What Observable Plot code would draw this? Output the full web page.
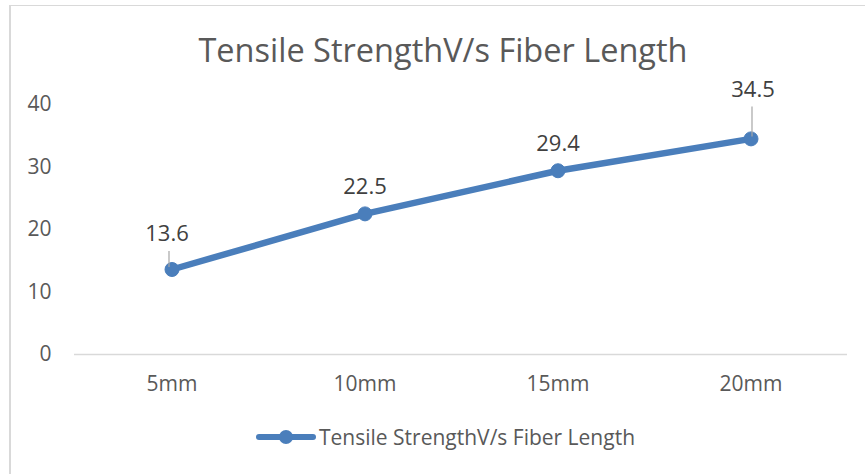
<!DOCTYPE html>
<html>
<head>
<meta charset="utf-8">
<script src="https://cdn.jsdelivr.net/npm/d3@7"></script>
<script src="https://cdn.jsdelivr.net/npm/@observablehq/plot@0.6"></script>
<style>
  html, body { margin: 0; padding: 0; background: #fff; }
  #wrap { position: relative; width: 865px; height: 474px; overflow: hidden; font-family: "Open Sans", sans-serif; }
  #frame { position: absolute; left: 9px; top: 5px; width: 870px; height: 480px; border-top: 1px solid #d9d9d9; border-left: 2px solid #d9d9d9; box-sizing: border-box; }
  #title { position: absolute; left: 0; width: 886px; top: 28px; text-align: center; font-size: 32.5px; color: #595959; line-height: 44px; }
  #chart { position: absolute; left: 0; top: 60px; }
  #chart svg { overflow: visible; }
  #legend { position: absolute; left: 256px; top: 423px; display: flex; align-items: center; font-size: 21px; color: #595959; }
</style>
</head>
<body>
<div id="wrap">
  <div id="frame"></div>
  <div id="title">Tensile StrengthV/s Fiber Length</div>
  <div id="chart"></div>
  <div id="legend"></div>
</div>
<script>
const categories = ["5mm", "10mm", "15mm", "20mm"];
const strength = [13.6, 22.5, 29.4, 34.5];
const yTicks = [0, 10, 20, 30, 40];
const seriesName = "Tensile StrengthV/s Fiber Length";

const data = categories.map((c, i) => ({ cat: c, value: strength[i], i }));
const blue = "#4a7ebb";

const plot = Plot.plot({
  width: 865,
  height: 340,
  marginLeft: 74,
  marginRight: 18,
  marginTop: 44,
  marginBottom: 46,
  style: { fontFamily: "Open Sans, sans-serif", fontSize: "21px", color: "#595959", background: "transparent", overflow: "visible" },
  x: { type: "band", domain: categories, padding: 0, label: null },
  y: { domain: [0, 40], ticks: yTicks, label: null },
  marks: [
    Plot.axisY({ ticks: yTicks, tickSize: 0, tickPadding: 23, label: null, fontSize: 21 }),
    Plot.axisX({ tickSize: 0, tickPadding: 22, label: null, fontSize: 21 }),
    Plot.ruleY([0], { stroke: "#d9d9d9", strokeWidth: 1.5 }),
    Plot.line(data, { x: "cat", y: "value", stroke: blue, strokeWidth: 6.5, strokeLinecap: "round", strokeLinejoin: "round" }),
    Plot.dot(data, { x: "cat", y: "value", r: 7, fill: blue, stroke: blue, strokeWidth: 1 }),
    // leader lines for moved labels
    Plot.ruleX(data, { filter: d => d.i === 0, x: "cat", y1: "value", y2: "value", dx: -3, insetTop: -18, insetBottom: 2, stroke: "#a6a6a6", strokeWidth: 1.2 }),
    Plot.ruleX(data, { filter: d => d.i === 3, x: "cat", y1: "value", y2: "value", dx: 1, insetTop: -32, insetBottom: 2, stroke: "#a6a6a6", strokeWidth: 1.2 }),
    Plot.text(data, { filter: d => d.i === 1 || d.i === 2, x: "cat", y: "value", text: d => d.value.toFixed(1), dy: -27, fill: "#404040", fontSize: 22 }),
    Plot.text(data, { filter: d => d.i === 0, x: "cat", y: "value", text: d => d.value.toFixed(1), dy: -36, dx: -5, fill: "#404040", fontSize: 22 }),
    Plot.text(data, { filter: d => d.i === 3, x: "cat", y: "value", text: d => d.value.toFixed(1), dy: -49, dx: 2, fill: "#404040", fontSize: 22 })
  ]
});
document.getElementById("chart").appendChild(plot);

const legend = document.getElementById("legend");
legend.innerHTML = `<svg width="60" height="20" style="margin-right:3px"><line x1="3" y1="10" x2="57" y2="10" stroke="${blue}" stroke-width="6" stroke-linecap="round"/><circle cx="30" cy="10" r="7" fill="${blue}"/></svg><span>${seriesName}</span>`;
</script>
</body>
</html>
